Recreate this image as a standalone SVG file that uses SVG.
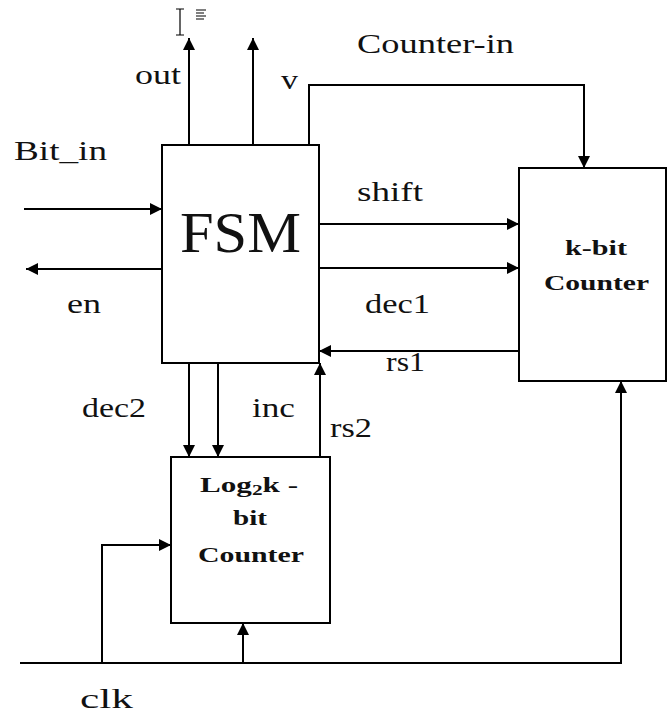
<svg xmlns="http://www.w3.org/2000/svg" width="669" height="717" viewBox="0 0 669 717">
<style>
.box{fill:#fff;stroke:#000;stroke-width:2}
.ln{fill:none;stroke:#000;stroke-width:2}
text{font-family:"Liberation Serif","DejaVu Serif","Noto Serif","Times New Roman",serif;fill:#111}
.lbl{font-size:27px}
.bl{font-size:22px;font-weight:bold;text-anchor:start}
</style>
<defs>
<marker id="ah" viewBox="0 0 10 10" refX="10" refY="5" markerWidth="12" markerHeight="12" markerUnits="userSpaceOnUse" orient="auto">
<path d="M0,0 L10,5 L0,10 z" fill="#000"/>
</marker>
</defs>
<rect width="669" height="717" fill="#fff"/>
<g id="cursor-icon" stroke="#000" stroke-width="1.2" fill="none">
<path d="M176,9 h8 M180,9 v26 M176,35 h8"/>
<path d="M196,10 h10 M196,13 h8 M196,16 h10 M196,19 h8"/>
</g>
<g id="fsm">
<rect class="box" x="162" y="145" width="157" height="218"/>
<text x="180" y="252" font-size="56" textLength="121" lengthAdjust="spacingAndGlyphs">FSM</text>
</g>
<g id="kbit">
<rect class="box" x="519" y="168" width="147" height="213"/>
<text class="bl" x="565" y="255" textLength="62" lengthAdjust="spacingAndGlyphs">k-bit</text>
<text class="bl" x="544" y="290" textLength="105" lengthAdjust="spacingAndGlyphs">Counter</text>
</g>
<g id="log2k">
<rect class="box" x="171" y="457" width="159" height="166"/>
<text class="bl" x="200" y="492" textLength="98" lengthAdjust="spacingAndGlyphs">Log<tspan font-size="15" dy="3">2</tspan><tspan dy="-3">k -</tspan></text>
<text class="bl" x="233" y="525" textLength="34" lengthAdjust="spacingAndGlyphs">bit</text>
<text class="bl" x="198" y="562" textLength="106" lengthAdjust="spacingAndGlyphs">Counter</text>
</g>
<g id="connectors">
<path class="ln" d="M189,145 V38" marker-end="url(#ah)"/>
<path class="ln" d="M253,145 V38" marker-end="url(#ah)"/>
<path class="ln" d="M309,145 V85 H584 V168" marker-end="url(#ah)"/>
<path class="ln" d="M24,209 H162" marker-end="url(#ah)"/>
<path class="ln" d="M162,269 H26" marker-end="url(#ah)"/>
<path class="ln" d="M319,224 H519" marker-end="url(#ah)"/>
<path class="ln" d="M319,268 H519" marker-end="url(#ah)"/>
<path class="ln" d="M519,351 H319" marker-end="url(#ah)"/>
<path class="ln" d="M189,363 V457" marker-end="url(#ah)"/>
<path class="ln" d="M218,363 V457" marker-end="url(#ah)"/>
<path class="ln" d="M320,457 V363" marker-end="url(#ah)"/>
<path class="ln" d="M20,663 H621 V381" marker-end="url(#ah)"/>
<path class="ln" d="M102,663 V545 H171" marker-end="url(#ah)"/>
<path class="ln" d="M243,663 V623" marker-end="url(#ah)"/>
</g>
<g id="labels">
<text class="lbl" x="135" y="84" textLength="46" lengthAdjust="spacingAndGlyphs">out</text>
<text class="lbl" x="281" y="89" textLength="17" lengthAdjust="spacingAndGlyphs">v</text>
<text class="lbl" x="357" y="53" textLength="157" lengthAdjust="spacingAndGlyphs">Counter-in</text>
<text class="lbl" x="14" y="160" textLength="93" lengthAdjust="spacingAndGlyphs">Bit_in</text>
<text class="lbl" x="357" y="201" textLength="66" lengthAdjust="spacingAndGlyphs">shift</text>
<text class="lbl" x="67" y="313" textLength="34" lengthAdjust="spacingAndGlyphs">en</text>
<text class="lbl" x="365" y="313" textLength="65" lengthAdjust="spacingAndGlyphs">dec1</text>
<text class="lbl" x="386" y="371" textLength="39" lengthAdjust="spacingAndGlyphs">rs1</text>
<text class="lbl" x="82" y="417" textLength="64" lengthAdjust="spacingAndGlyphs">dec2</text>
<text class="lbl" x="252" y="417" textLength="43" lengthAdjust="spacingAndGlyphs">inc</text>
<text class="lbl" x="330" y="437" textLength="42" lengthAdjust="spacingAndGlyphs">rs2</text>
<text class="lbl" x="80" y="708" textLength="53" lengthAdjust="spacingAndGlyphs">clk</text>
</g>
</svg>
